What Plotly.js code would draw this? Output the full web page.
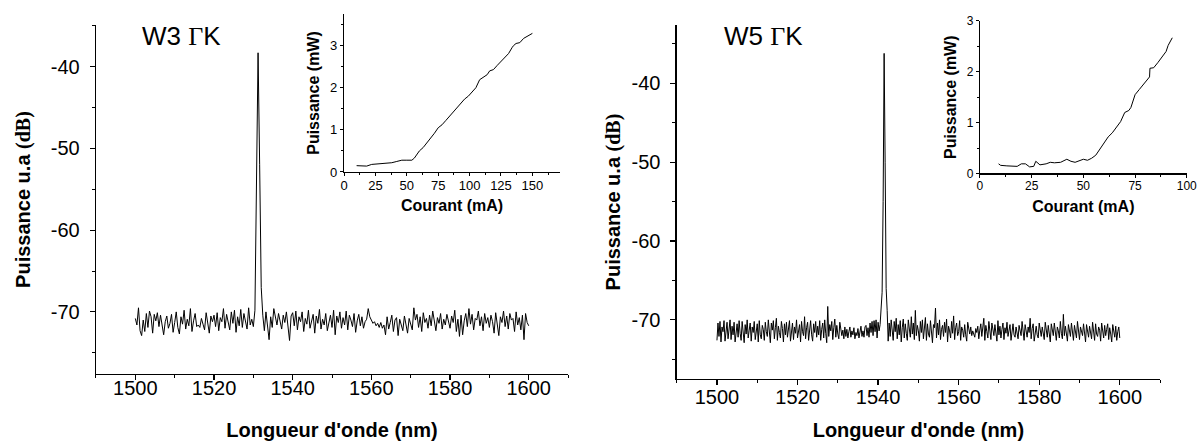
<!DOCTYPE html>
<html>
<head>
<meta charset="utf-8">
<script src="https://cdn.plot.ly/plotly-3.0.1.min.js"></script>
<style>html,body{margin:0;padding:0;background:#fff;}#chart{width:1203px;height:441px;}</style>
</head>
<body>
<div id="chart"></div>
<script>
// W3 spectrum: 1500..1600 nm, step 0.4 nm
const w3Start = 1500, w3Step = 0.4;
const w3Power = [
-70.8,-71.6,-69.5,-72.3,-72.9,-71.0,-72.4,-70.2,-71.9,-69.9,-70.6,-72.6,-70.3,-71.1,-70.1,-71.8,-70.4,-71.6,-72.8,-71.2,-70.5,-72.0,-71.4,-70.3,-72.5,
-71.3,-70.0,-71.9,-72.7,-70.6,-71.5,-69.8,-72.1,-70.9,-71.7,-69.6,-72.4,-71.1,-70.2,-71.8,-71.6,-71.9,-70.8,-71.5,-72.2,-70.1,-71.4,-72.6,-70.5,-71.2,
-70.4,-71.8,-70.1,-72.3,-70.7,-71.2,-69.6,-72.0,-70.3,-71.5,-72.2,-70.0,-71.4,-69.8,-72.5,-70.6,-71.7,-69.7,-71.9,-70.2,-71.3,-72.1,-69.5,-71.6,-70.9,
-71.8,-69.8,-56.0,-38.3,-52.0,-67.0,-70.4,-72.3,-70.0,-71.5,-73.4,-70.6,-71.9,-69.6,-70.8,-71.6,-70.2,-71.0,-72.1,-70.4,-71.3,-70.0,-72.0,-73.5,-70.5,
-70.1,-71.7,-69.9,-72.2,-70.6,-71.2,-70.0,-72.4,-70.8,-71.5,-69.8,-72.0,-71.0,-70.3,-72.6,-70.5,-71.4,-69.7,-72.1,-70.9,-71.6,-70.2,-72.3,-71.1,-70.4,
-71.9,-69.8,-72.8,-70.5,-71.3,-70.0,-72.0,-70.7,-71.6,-69.9,-72.2,-70.4,-71.0,-71.8,-70.2,-72.5,-71.1,-70.3,-71.7,-70.6,-72.0,-71.2,-70.9,-69.6,-70.6,
-71.1,-71.4,-71.2,-71.7,-71.4,-71.9,-71.3,-72.0,-71.6,-72.8,-70.6,-72.1,-71.3,-70.4,-72.4,-71.0,-70.7,-72.9,-70.9,-71.6,-72.3,-70.5,-71.8,-72.6,-70.8,
-71.5,-72.2,-69.5,-71.0,-70.3,-71.9,-70.6,-72.4,-70.1,-71.3,-70.8,-72.0,-70.4,-71.7,-69.9,-71.2,-72.3,-70.7,-71.4,-70.2,-72.1,-70.9,-71.6,-70.3,-71.1,
-72.0,-70.5,-71.3,-69.8,-72.4,-70.9,-73.0,-70.4,-72.8,-71.1,-70.2,-71.8,-69.6,-71.5,-70.3,-72.2,-70.8,-71.0,-69.9,-71.7,-70.6,-72.3,-70.2,-71.4,-70.7,
-71.9,-70.4,-71.2,-72.6,-70.1,-71.5,-72.9,-70.6,-71.3,-69.9,-71.8,-70.5,-72.1,-70.2,-71.0,-70.8,-72.4,-70.0,-71.6,-70.7,-72.2,-70.4,-73.4,-70.2,-71.3,-71.7
];

// W5 spectrum: 1500..1600 nm, step 0.25 nm
const w5Start = 1500, w5Step = 0.25;
const w5Power = [
-72.6,-70.4,-72.1,-70.2,-72.8,-70.9,-71.5,-70.1,-72.7,-71.0,-70.3,-72.4,-71.2,-70.0,-72.5,-70.8,-71.9,-70.3,-72.8,-71.1,-70.5,-72.2,-70.1,-71.7,-72.6,
-70.2,-71.4,-72.9,-70.6,-71.8,-70.0,-72.3,-71.3,-70.4,-72.7,-70.9,-71.6,-70.2,-72.5,-71.0,-70.5,-72.8,-70.1,-71.9,-72.4,-70.7,-71.2,-72.6,-70.3,-71.5,
-72.1,-70.0,-71.8,-72.9,-70.4,-71.3,-70.1,-72.4,-71.0,-69.8,-72.6,-70.8,-71.6,-72.3,-70.2,-71.1,-72.8,-70.5,-71.9,-70.3,-72.2,-71.4,-70.1,-72.7,-71.2,
-70.4,-72.5,-70.9,-71.7,-70.0,-72.3,-71.1,-70.6,-72.8,-70.2,-71.5,-72.0,-69.6,-72.4,-71.0,-70.3,-72.6,-71.3,-70.1,-71.9,-72.7,-70.5,-71.6,-70.2,-72.2,
-70.8,-71.9,-70.1,-72.6,-71.2,-70.4,-72.3,-70.0,-71.7,-72.9,-68.3,-72.1,-70.6,-71.4,-70.2,-72.5,-71.0,-69.9,-72.2,-70.7,-71.8,-72.4,-70.3,-71.5,-72.0,
-71.3,-72.4,-70.9,-72.1,-71.2,-72.3,-71.5,-70.9,-72.2,-71.4,-71.9,-71.0,-72.4,-71.6,-72.0,-71.1,-72.3,-71.5,-70.8,-72.1,-71.4,-72.2,-70.9,-70.7,-72.0,
-71.0,-72.2,-70.4,-71.6,-70.2,-72.0,-70.1,-71.5,-70.0,-72.3,-70.3,-71.4,-70.6,-68.2,-66.5,-55.0,-36.2,-50.0,-66.0,-68.8,-72.7,-70.4,-72.1,-70.0,-71.8,
-72.6,-70.2,-71.5,-69.8,-72.4,-70.6,-71.9,-70.1,-72.8,-71.0,-69.9,-72.3,-70.5,-71.7,-72.6,-70.0,-71.3,-72.2,-69.6,-71.8,-70.4,-72.5,-68.8,-72.0,-70.7,
-71.4,-72.7,-70.2,-71.6,-70.0,-72.4,-71.1,-69.7,-72.6,-70.5,-71.8,-72.2,-70.1,-71.3,-72.9,-70.6,-71.0,-68.5,-72.3,-70.4,-71.9,-70.0,-72.5,-71.2,-70.7,
-72.1,-70.3,-71.6,-69.9,-72.8,-70.8,-71.4,-72.3,-70.2,-71.7,-69.5,-72.5,-71.0,-70.4,-72.0,-71.5,-70.1,-72.6,-70.9,-71.3,-72.2,-70.6,-71.9,-72.7,-70.3,
-71.2,-71.8,-70.9,-72.0,-71.4,-71.7,-72.2,-71.1,-71.6,-70.8,-72.4,-71.3,-70.5,-72.1,-71.0,-69.8,-72.6,-70.7,-71.5,-72.3,-70.2,-71.8,-72.5,-70.4,-71.2,
-72.0,-70.6,-71.5,-72.7,-70.1,-71.9,-70.8,-72.3,-71.2,-70.4,-72.5,-71.0,-71.7,-70.3,-72.1,-71.4,-70.6,-72.6,-71.1,-70.5,-71.9,-72.2,-70.9,-71.6,-72.4,
-70.7,-71.3,-72.0,-70.2,-71.8,-72.6,-70.6,-71.4,-72.2,-70.9,-71.6,-69.8,-72.4,-71.1,-70.5,-72.7,-71.3,-70.8,-71.9,-72.3,-70.4,-71.5,-72.1,-70.9,-71.7,
-72.5,-70.3,-71.6,-72.2,-70.7,-71.9,-72.8,-70.5,-71.3,-72.0,-70.4,-71.8,-72.6,-70.9,-71.4,-72.3,-70.2,-71.7,-72.4,-69.3,-72.0,-70.8,-71.5,-72.7,-70.6,
-71.2,-72.1,-70.4,-71.8,-72.6,-70.7,-71.5,-72.3,-70.2,-71.9,-72.5,-70.9,-71.3,-72.0,-70.5,-71.7,-72.8,-70.6,-71.4,-72.2,-70.8,-71.6,-72.4,-70.3,-71.9,
-72.6,-70.5,-71.8,-72.1,-70.9,-71.3,-72.7,-70.4,-71.6,-72.3,-70.7,-72.0,-71.2,-70.5,-72.5,-71.0,-71.8,-72.8,-70.6,-71.4,-72.2,-70.8,-72.6,-71.5,-70.9,
-72.3
];

// Insets: output power vs current
const w3Current = [10,14,18,22,26,30,34,38,42,46,50,54,56,58,60,63,66,69,72,75,78,81,84,87,90,93,96,99,102,105,108,111,114,116,119,122,125,128,131,134,135,137,140,143,146,150];
const w3Output  = [0.15,0.14,0.14,0.18,0.19,0.20,0.22,0.22,0.25,0.28,0.28,0.28,0.33,0.42,0.50,0.58,0.69,0.80,0.92,1.05,1.12,1.22,1.32,1.42,1.53,1.62,1.73,1.80,1.91,2.00,2.19,2.24,2.31,2.40,2.43,2.53,2.62,2.70,2.81,2.96,3.00,3.05,3.07,3.17,3.22,3.29];
const w5Current = [9,10,13,16,18,20,22,24,26,27,29,32,34,36,39,42,44,46,48,50,52,54,56,58,60,62,64,66,68,70,72,73,75,77,79,81,82,82.2,84,86,88,90,91,93];
const w5Output  = [0.19,0.16,0.15,0.14,0.14,0.19,0.19,0.13,0.14,0.24,0.17,0.19,0.22,0.21,0.22,0.28,0.24,0.22,0.25,0.28,0.26,0.30,0.36,0.48,0.60,0.72,0.80,0.90,1.02,1.20,1.24,1.30,1.55,1.65,1.75,1.85,1.90,2.07,2.08,2.18,2.30,2.40,2.52,2.67];

// Tick labels (hyphen-minus as in the original)
const dbTicks = [-70, -60, -50, -40];
const dbTickText = ['-70', '-60', '-50', '-40'];

const w3Wl = w3Power.map((_, i) => +(w3Start + i * w3Step).toFixed(2));
const w5Wl = w5Power.map((_, i) => +(w5Start + i * w5Step).toFixed(2));

const SANS = 'Liberation Sans, Arial, sans-serif';
const SERIF = 'Liberation Serif, Times New Roman, serif';

function mainX(domain, anchor, lblOff) {
  return {
    domain, anchor, range: [1490, 1610], dtick: 20, tick0: 1500,
    showline: true, linecolor: '#000', linewidth: 1.3, ticks: 'outside', ticklen: 5, tickwidth: 1.2, tickcolor: '#000',
    minor: {dtick: 10, tick0: 1490, ticks: 'outside', ticklen: 3, tickwidth: 1, tickcolor: '#000', showgrid: false},
    showgrid: false, zeroline: false, ticklabelstandoff: lblOff,
    tickfont: {family: SANS, size: 20, color: '#000'},
    title: {text: "<b>Longueur d'onde (nm)</b>", font: {family: SANS, size: 20, color: '#000'}, standoff: 24 - (lblOff + 9)}
  };
}
function mainY(domain, anchor, range, titleOff) {
  return {
    domain, anchor, range, tickmode: 'array', tickvals: dbTicks, ticktext: dbTickText,
    showline: true, linecolor: '#000', linewidth: 1.3, ticks: 'outside', ticklen: 5, tickwidth: 1.2, tickcolor: '#000',
    minor: {dtick: 5, tick0: -40, ticks: 'outside', ticklen: 3, tickwidth: 1, tickcolor: '#000', showgrid: false},
    showgrid: false, zeroline: false, ticklabelstandoff: 6,
    tickfont: {family: SANS, size: 20, color: '#000'},
    title: {text: '<b>Puissance u.a</b> <span style="font-family:' + SERIF + '"><b>(dB)</b></span>', font: {family: SANS, size: 20, color: '#000'}, standoff: titleOff}
  };
}
function insetX(domain, anchor, range, fs) {
  return {
    domain, anchor, range, dtick: 25, tick0: 0,
    showline: true, linecolor: '#000', linewidth: 1.1, ticks: 'outside', ticklen: 3, tickwidth: 1, tickcolor: '#000',
    minor: {dtick: 12.5, tick0: 0, ticks: 'outside', ticklen: 2, tickwidth: 1, tickcolor: '#000', showgrid: false},
    showgrid: false, zeroline: false, ticklabelstandoff: -2,
    tickfont: {family: SANS, size: fs, color: '#000'},
    title: {text: '<b>Courant (mA)</b>', font: {family: SANS, size: 16, color: '#000'}, standoff: 8}
  };
}
function insetY(domain, anchor, range, fs) {
  return {
    domain, anchor, range, dtick: 1, tick0: 0,
    showline: true, linecolor: '#000', linewidth: 1.1, ticks: 'outside', ticklen: 3, tickwidth: 1, tickcolor: '#000',
    minor: {dtick: 0.5, tick0: 0, ticks: 'outside', ticklen: 2, tickwidth: 1, tickcolor: '#000', showgrid: false},
    showgrid: false, zeroline: false,
    tickfont: {family: SANS, size: fs, color: '#000'},
    title: {text: '<b>Puissance (mW)</b>', font: {family: SANS, size: 16, color: '#000'}, standoff: 6}
  };
}

const line = {color: '#000', width: 1};
const data = [
  {x: w3Wl, y: w3Power, xaxis: 'x', yaxis: 'y', type: 'scatter', mode: 'lines', line, name: 'W3 ΓK'},
  {x: w3Current, y: w3Output, xaxis: 'x2', yaxis: 'y2', type: 'scatter', mode: 'lines', line, name: 'W3 L-I'},
  {x: w5Wl, y: w5Power, xaxis: 'x3', yaxis: 'y3', type: 'scatter', mode: 'lines', line, name: 'W5 ΓK'},
  {x: w5Current, y: w5Output, xaxis: 'x4', yaxis: 'y4', type: 'scatter', mode: 'lines', line, name: 'W5 L-I'}
];

const layout = {
  width: 1203, height: 441,
  margin: {l: 0, r: 0, t: 0, b: 0},
  paper_bgcolor: '#fff', plot_bgcolor: 'rgba(0,0,0,0)',
  showlegend: false,
  font: {family: SANS, color: '#000'},
  xaxis: mainX([0.0798, 0.4722], 'y', -9),
  yaxis: mainY([0.1519, 0.9433], 'x', [-77.6, -34.9], 14),
  xaxis2: insetX([0.2860, 0.4655], 'y2', [0, 172], 13),
  yaxis2: insetY([0.6100, 0.9683], 'x2', [0, 3.75], 13),
  xaxis3: mainX([0.5625, 0.9643], 'y3', -5),
  yaxis3: mainY([0.1406, 0.9433], 'x3', [-77.5, -32.6], 5),
  xaxis4: insetX([0.8146, 0.9865], 'y4', [0, 100], 12),
  yaxis4: insetY([0.6066, 0.9524], 'x4', [0, 3], 12),
  annotations: [
    {xref: 'paper', yref: 'paper', x: 181/1203, y: 1 - 36/441, xanchor: 'center', yanchor: 'middle', showarrow: false,
     text: 'W3 <span style="font-family:' + SERIF + '">Γ</span>K', font: {family: SANS, size: 26, color: '#000'}},
    {xref: 'paper', yref: 'paper', x: 763/1203, y: 1 - 36/441, xanchor: 'center', yanchor: 'middle', showarrow: false,
     text: 'W5 <span style="font-family:' + SERIF + '">Γ</span>K', font: {family: SANS, size: 26, color: '#000'}}
  ]
};

Plotly.newPlot('chart', data, layout, {displayModeBar: false, staticPlot: true});
</script>
</body>
</html>
